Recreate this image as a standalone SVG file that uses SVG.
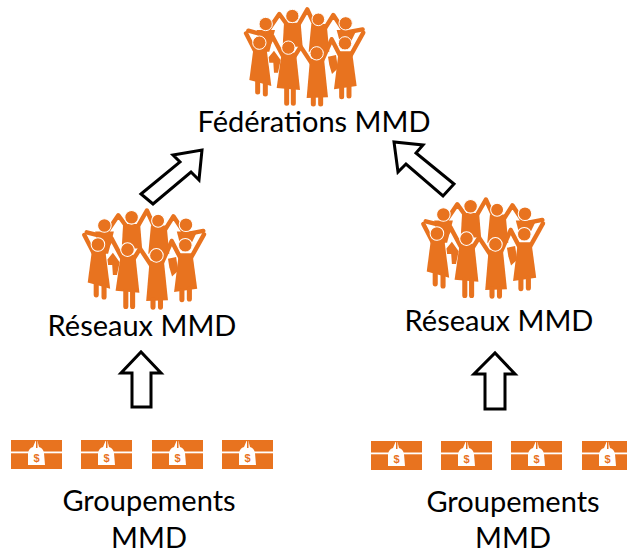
<svg xmlns="http://www.w3.org/2000/svg" xmlns:xlink="http://www.w3.org/1999/xlink" width="627" height="554" viewBox="0 0 627 554">
<style>
text{font-family:Lato,"Liberation Sans",sans-serif;font-size:29px;fill:#000;text-anchor:middle}
.arrow{fill:#fff;stroke:#000;stroke-width:3;stroke-miterlimit:10}
.o{fill:#e8731f}
.arm{fill:none;stroke:#e8731f;stroke-width:13;stroke-linecap:round;stroke-linejoin:round}
.h{fill:#e8731f;stroke:#fff;stroke-width:3}
.leg{fill:none;stroke:#e8731f;stroke-width:15;stroke-linecap:round}
</style>
<defs>
<g id="crowd">
<g>
<path class="arm" d="M55 92 L105 105 L148 42 L172 75 M205 75 L232 28 L258 85 M285 85 L310 45 L345 98 L398 88"/>
<path class="o" d="M162 68H212L218 140H158Z"/>
<path class="o" d="M244 72H290L298 155H236Z"/>
<path class="o" d="M80 90H135L118 155H92Z"/>
<path class="o" d="M320 90H380L358 135H332Z"/>
<path class="o" d="M116 172L132 152L152 180L144 218H132L130 188H118Z"/>
<path class="o" d="M294 170L318 165L324 205L306 222L298 195Z"/>
<circle class="h" cx="107" cy="72" r="20"/>
<circle class="h" cx="187" cy="48" r="20"/>
<circle class="h" cx="265" cy="58" r="19"/>
<circle class="h" cx="347" cy="70" r="20"/>
</g>
<g>
<path class="arm" d="M48 100L78 158M128 110L102 158M128 110L160 170"/>
<path class="arm" d="M212 140L188 178M212 140L245 190"/>
<path class="arm" d="M305 118L275 185M305 118L332 170"/>
<path class="arm" d="M400 98L360 170"/>
<path class="o" d="M70 148H110L124 258L58 240Z"/>
<path class="o" d="M155 158H198L210 270L140 264Z"/>
<path class="o" d="M240 176H282L294 292L230 294Z"/>
<path class="o" d="M326 154H366L380 258L312 268Z"/>
<path class="leg" d="M83 245V276M106 250V282M170 265V310M190 265V310M250 290V312M272 290V312M335 264V290M357 260V288"/>
<circle class="h" cx="88" cy="128" r="20"/>
<circle class="h" cx="175" cy="143" r="20"/>
<circle class="h" cx="260" cy="160" r="20"/>
<circle class="h" cx="345" cy="130" r="20"/>
</g>
</g>
<g id="chest">
<rect class="o" x="0" y="0" width="51" height="29"/>
<rect x="0" y="11.500" width="51" height="1.800" fill="#fff"/>
<path d="M17 13 Q18 8 22 7 L24.500 1 H26.500 L28 7 Q32 8 33 13 L34 25 H17 Z" fill="#fff"/>
<path d="M25 1H26.500V8H25Z" class="o"/>
<text x="25.500" y="22" style="font-size:11px;font-weight:700;fill:#e8731f;font-family:'Liberation Sans',sans-serif">$</text>
</g>
</defs>
<g id="connectors">
<path class="arrow" d="M141 194L180 162L173 155L202 150L199 180L191 172L153 204Z"/>
<path class="arrow" d="M454 184L416 153L423 145L394 142L398 172L406 164L443 196Z"/>
<path class="arrow" d="M132 407V373H121L141 352L161 373H151V407Z"/>
<path class="arrow" d="M485 409V374H474L495 353L515 374H505V409Z"/>
</g>
<g id="federations">
<use xlink:href="#crowd" href="#crowd" transform="translate(230 0) scale(.3333)"/>
<text x="314" y="132">Fédérations MMD</text>
</g>
<g id="reseau-gauche">
<use xlink:href="#crowd" href="#crowd" transform="translate(68 201) scale(.34)"/>
<text x="142" y="336">Réseaux MMD</text>
</g>
<g id="reseau-droite">
<use xlink:href="#crowd" href="#crowd" transform="translate(407 190) scale(.34)"/>
<text x="499" y="331">Réseaux MMD</text>
</g>
<g id="groupements-gauche">
<use xlink:href="#chest" href="#chest" x="11" y="440"/>
<use xlink:href="#chest" href="#chest" x="81" y="440"/>
<use xlink:href="#chest" href="#chest" x="152" y="440"/>
<use xlink:href="#chest" href="#chest" x="222" y="440"/>
<text x="149" y="511">Groupements</text>
<text x="149" y="548">MMD</text>
</g>
<g id="groupements-droite">
<use xlink:href="#chest" href="#chest" x="371" y="441"/>
<use xlink:href="#chest" href="#chest" x="441" y="441"/>
<use xlink:href="#chest" href="#chest" x="511" y="441"/>
<use xlink:href="#chest" href="#chest" x="582" y="441"/>
<text x="513" y="512">Groupements</text>
<text x="513" y="548">MMD</text>
</g>
</svg>
